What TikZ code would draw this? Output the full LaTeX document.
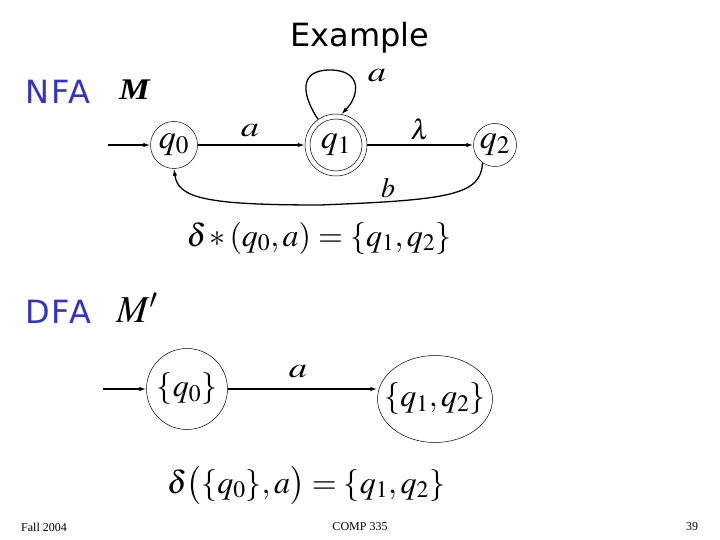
\documentclass[tikz,border=0pt]{standalone}
\usepackage{mathptmx}
\usepackage{fontspec}
\setmainfont{Liberation Serif}
\newfontfamily\labelfont{DejaVu Sans}
\usetikzlibrary{arrows.meta,shapes.geometric}
\definecolor{nfablue}{RGB}{50,50,200}
\tikzset{
  st/.style={draw, circle, line width=0.5pt, inner sep=0pt, font=\fontsize{34}{36}\selectfont},
  tr/.style={-{Latex[length=7pt,width=4.5pt]}, line width=1.3pt},
  elab/.style={font=\fontsize{28}{30}\selectfont},
  alab/.style={elab, xscale=1.3},
  side/.style={font=\labelfont\fontsize{32}{34}\selectfont\addfontfeature{LetterSpace=6}, text=nfablue},
  foot/.style={font=\fontsize{12}{14}\selectfont},
}
\begin{document}
\begin{tikzpicture}[x=1pt,y=-1pt]
\useasboundingbox (0,0) rectangle (720,540);
\node[font=\labelfont\fontsize{32}{36}\selectfont] (title) at (360,38) {Example};
\node[side] (nfa) at (58,92) {NFA};
\node[side] (dfa) at (58,312) {DFA};
\node[font=\fontsize{30}{32}\selectfont, xscale=1.15] (m) at (135,90) {\textbf{\textit{M}}};
\node[font=\fontsize{38}{40}\selectfont] (mp) at (137,308) {$M'$};
% NFA
\node[st, minimum size=47pt] (q0) at (174,145) {$q_0$};
\node[st, minimum size=62pt] (q1) at (336,145) {$q_1$};
\draw[line width=0.5pt] (q1.center) circle (26);
\node[st, minimum size=43pt] (q2) at (495,145) {$q_2$};
\coordinate (s0) at (108,145);
\draw[tr] (s0) -- (q0);
\draw[tr] (q0) -- (q1);
\draw[tr] (q1) -- (q2);
\node[alab] (la) at (250,131) {$a$};
\node[elab] (ll) at (420,129) {$\lambda$};
\draw[tr] (q1.125) .. controls (302,95) and (298,70) .. (330,70)
   .. controls (362,70) and (360,95) .. (q1.80);
\node[alab] (lloop) at (377,76) {$a$};
\draw[tr] (q2.235) .. controls (481,195) and (450,200) .. (320,205)
   .. controls (205,205) and (178,198) .. (q0.south);
\node[elab] (lb) at (388,188) {$b$};
\node[font=\fontsize{32}{34}\selectfont] (f1) at (319,238) {$\delta\,{*}\,(q_0,a)=\{q_1,q_2\}$};
% DFA
\node[st, minimum size=81pt, font=\fontsize{32}{34}\selectfont] (d0) at (187,389) {$\{q_0\}$};
\node[draw, ellipse, line width=0.5pt, inner sep=0pt, minimum width=115pt, minimum height=87pt] (d1) at (435,399) {};
\node[font=\fontsize{32}{34}\selectfont] (d1t) at (d1.center) {$\{q_1,q_2\}$};
\coordinate (s1) at (103,389);
\draw[tr] (s1) -- (d0.west);
\draw[tr] (d0.east) -- (d0.east -| d1.west);
\node[alab] (la2) at (298,372) {$a$};
\node[font=\fontsize{32}{34}\selectfont] (f2) at (306,485) {$\delta\bigl(\{q_0\},a\bigr)=\{q_1,q_2\}$};
% footer
\node[foot] (fl) at (44,527) {Fall 2004};
\node[foot] (fc) at (360,527) {COMP 335};
\node[foot] (fr) at (692,527) {39};
\end{tikzpicture}
\end{document}
